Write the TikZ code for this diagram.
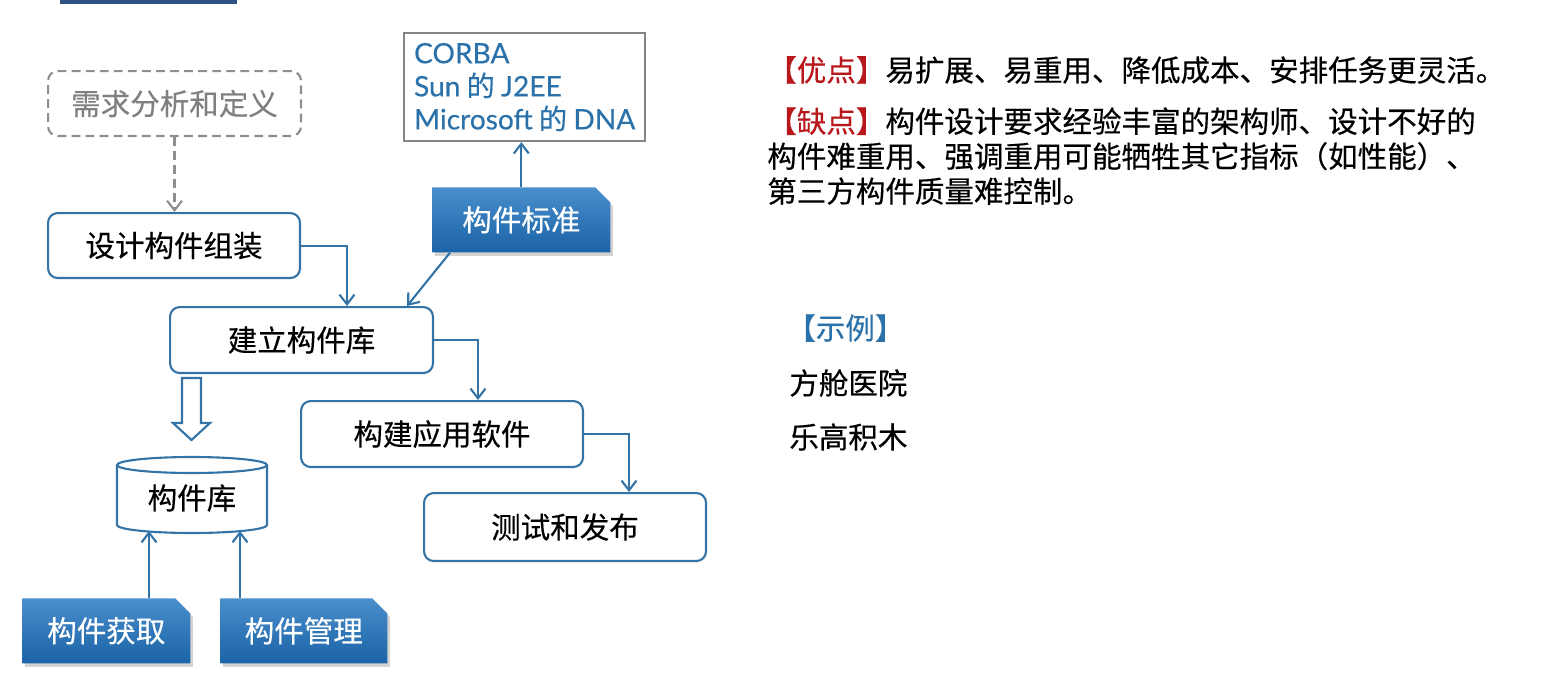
\documentclass[tikz,border=0pt]{standalone}
\usepackage{fontspec}
\setmainfont{Noto Sans CJK SC}[FakeBold=0.35]
\newfontfamily\latinfont{Lato}[FakeBold=0.3]
\usetikzlibrary{arrows.meta,shapes.misc,shadows,calc}
\definecolor{edgeblue}{HTML}{3473A5}
\definecolor{tagtop}{HTML}{4A8ECC}
\definecolor{tagbot}{HTML}{1A63A6}
\definecolor{dashgray}{HTML}{8E8E8E}
\definecolor{textgray}{HTML}{808080}
\definecolor{stdblue}{HTML}{2B72AB}
\definecolor{framegray}{HTML}{858585}
\definecolor{prored}{HTML}{B8181C}
\definecolor{barblue}{HTML}{2F5283}
\begin{document}
\begin{tikzpicture}[x=0.02cm, y=-0.02cm,
  font=\fontsize{16.8}{20}\selectfont,
  flowbox/.style={draw=edgeblue, line width=1.2pt, rounded corners=5.5pt,
    anchor=north west, inner sep=0pt, minimum height=1.3cm},
  tagbox/.style={chamfered rectangle, chamfered rectangle corners=north east,
    chamfered rectangle angle=45, chamfered rectangle xsep=5pt,
    top color=tagtop, bottom color=tagbot, draw=none, text=white,
    drop shadow={shadow xshift=1.5pt, shadow yshift=-2pt, opacity=0.35},
    anchor=north west, inner sep=0pt, minimum height=1.3cm},
  link/.style={draw=edgeblue, line width=1.2pt,
    -{Straight Barb[length=5.5pt,width=8.5pt,line width=1.2pt]}},
  plaintext/.style={inner sep=0pt},
]
\useasboundingbox (0,0) rectangle (1563,684);

% title bar remnant
\fill[barblue] (60,0) rectangle (237,4);

% process steps
\node[flowbox, draw=dashgray, dash pattern=on 5pt off 3pt, text=textgray,
      minimum width=5.06cm] (req) at (47,70) {需求分析和定义};
\node[flowbox, minimum width=5.04cm] (design) at (47,212) {设计构件组装};
\node[flowbox, minimum width=5.26cm, minimum height=1.32cm] (build) at (169,306) {建立构件库};
\node[flowbox, minimum width=5.64cm, minimum height=1.32cm] (app) at (300,400) {构建应用软件};
\node[flowbox, minimum width=5.64cm, minimum height=1.36cm] (test) at (423,492) {测试和发布};

% standards
\node[draw=framegray, line width=1.2pt, anchor=north west, inner xsep=0.2cm,
      inner ysep=0pt, align=left, minimum width=4.8cm, minimum height=2.16cm,
      text=stdblue, font=\fontsize{16}{18.8}\selectfont] (corba) at (403,32)
      {{\latinfont CORBA}\\{\latinfont Sun} 的 {\latinfont J2EE}\\
       {\latinfont Microsoft} 的 {\latinfont DNA}};
\node[tagbox, minimum width=3.56cm] (std) at (432,187) {构件标准};

% component library
\node[tagbox, minimum width=3.36cm] (acq) at (22,598) {构件获取};
\node[tagbox, minimum width=3.34cm] (mgmt) at (220,598) {构件管理};
\draw[edgeblue, line width=1.2pt] (192,465) ellipse [x radius=1.5cm, y radius=0.16cm];
\draw[edgeblue, line width=1.2pt] (117,465) -- (117,525)
  arc[start angle=180, end angle=360, x radius=1.5cm, y radius=0.16cm] -- (267,465);
\node[plaintext] (lib) at (192,498) {构件库};
\coordinate (libinA) at (149,531);
\coordinate (libinB) at (240,531);

% hollow block arrow into the library
\draw[edgeblue, line width=1.2pt, fill=white, line join=miter]
  (182,378) -- (201,378) -- (201,423) -- (210,423) -- (191.5,440)
  -- (173,423) -- (182,423) -- cycle;

% connectors
\draw[link, draw=dashgray, dash pattern=on 5pt off 3pt]
  (req.south) -- (req.south |- design.north);
\draw[link] (design.east) -| ($(build.north west)+(178,0)$);
\draw[link] ($(std.south west)+(18,0)$) -- ($(build.north west)+(238,0)$);
\draw[link] (std.north) -- (std.north |- corba.south);
\draw[link] (build.east) -| ($(app.north west)+(178,0)$);
\draw[link] (app.east) -| ($(test.north west)+(206,0)$);
\draw[link] (acq.north -| libinA) -- (libinA);
\draw[link] (mgmt.north -| libinB) -- (libinB);

% notes
\node[plaintext, anchor=west] (pros) at (767,70)
  {\textcolor{prored}{【优点】}易扩展、易重用、降低成本、安排任务更灵活。};
\node[plaintext, anchor=north west, align=left,
      font=\fontsize{16.8}{19.9}\selectfont] (cons) at (767,107)
  {\textcolor{prored}{【缺点】}构件设计要求经验丰富的架构师、设计不好的\\
   构件难重用、强调重用可能牺牲其它指标（如性能）、\\
   第三方构件质量难控制。};
\node[plaintext, anchor=west, text=stdblue] (ex) at (786,328) {【示例】};
\node[plaintext, anchor=west] (ex1) at (789,383) {方舱医院};
\node[plaintext, anchor=west] (ex2) at (789,437) {乐高积木};
\end{tikzpicture}
\end{document}
